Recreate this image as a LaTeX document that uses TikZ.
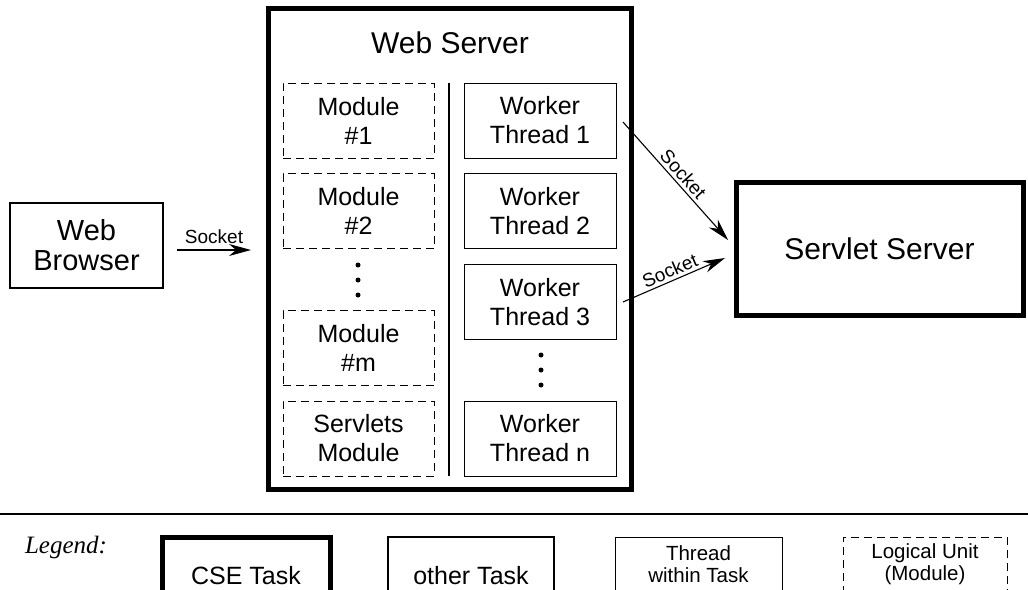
\documentclass[tikz,border=0pt]{standalone}
\usepackage{fontspec}
\setmainfont{Liberation Sans}
\newfontfamily\serifit{Liberation Serif}
\usetikzlibrary{arrows.meta}
\begin{document}
\begin{tikzpicture}[x=1pt,y=-1pt,
  box/.style={draw, rectangle, inner sep=0pt, align=center},
  cse/.style={box, line width=5pt},
  task/.style={box, line width=2.5pt},
  thr/.style={box, line width=1pt, minimum width=152pt, minimum height=75pt, font=\fontsize{25}{29}\selectfont},
  modu/.style={box, line width=1pt, dash pattern=on 8pt off 5pt, minimum width=151pt, minimum height=75pt, font=\fontsize{25}{29}\selectfont},
  dotn/.style={circle, fill, inner sep=0pt, minimum size=5pt},
  sock/.style={line width=1.1pt, -{Stealth[length=22pt,width=12pt,inset=7pt]}},
  socklbl/.style={font=\fontsize{19}{20}\selectfont, inner sep=3pt},
  lgtxt/.style={align=center, inner sep=0pt}
]
\useasboundingbox (0,0) rectangle (1028,589);
\clip (0,0) rectangle (1028,589);

% Web Browser
\node[task, minimum width=153pt, minimum height=85pt, font=\fontsize{29}{30}\selectfont] (wb) at (86.5,245.5) {Web\\Browser};

% Web Server
\node[cse, minimum width=363pt, minimum height=481pt] (ws) at (449.5,248.5) {};
\node[font=\fontsize{30}{30}\selectfont] (wstitle) at (450,43) {Web Server};

% Modules
\node[modu] (m1) at (358.5,120.5) {Module\\\#1};
\node[modu] (m2) at (358.5,211) {Module\\\#2};
\node[modu] (mm) at (358.5,348) {Module\\\#m};
\node[modu] (ms) at (358.5,438.5) {Servlets\\Module};
\node[dotn] (md1) at (358,265) {};
\node[dotn] (md2) at (358,280) {};
\node[dotn] (md3) at (358,295) {};

% divider
\coordinate (dvt) at (449,83);
\coordinate (dvb) at (449,476);
\draw[line width=1.3pt] (dvt) -- (dvb);

% Worker threads
\node[thr] (w1) at (540,120.5) {Worker\\Thread 1};
\node[thr] (w2) at (540,211) {Worker\\Thread 2};
\node[thr] (w3) at (540,302) {Worker\\Thread 3};
\node[thr] (wn) at (540,438.5) {Worker\\Thread n};
\node[dotn] (wd1) at (541,355) {};
\node[dotn] (wd2) at (541,370) {};
\node[dotn] (wd3) at (541,385) {};

% Servlet Server
\node[cse, minimum width=287pt, minimum height=133pt, font=\fontsize{30}{30}\selectfont] (ss) at (879.5,248.5) {Servlet Server};

% Sockets
\coordinate (bs) at (177,250);
\coordinate (be) at (251,250);
\draw[sock] (bs) -- (be);
\node[socklbl] (bl) at (214,237) {Socket};

\coordinate (s1) at (623,122);
\coordinate (t1) at (728,240);
\draw[sock] (s1) -- node[socklbl, above, sloped, pos=0.5] (l1) {Socket} (t1);
\coordinate (s2) at (623,302);
\coordinate (t2) at (725,258);
\draw[sock] (s2) -- node[socklbl, above, sloped, pos=0.5] (l2) {Socket} (t2);

% Legend
\coordinate (lgl) at (0,514);
\coordinate (lgr) at (1028,514);
\draw[line width=1.3pt] (lgl) -- (lgr);
\node[font=\serifit\itshape\fontsize{25}{26}\selectfont] (lg) at (66,547) {Legend:};

\node[cse, minimum width=168pt, minimum height=78pt] (lcse) at (246,576) {};
\node[lgtxt, font=\fontsize{25}{26}\selectfont] (lcset) at (246,576) {CSE Task};

\node[task, minimum width=166pt, minimum height=78pt] (loth) at (471,576) {};
\node[lgtxt, font=\fontsize{25}{26}\selectfont] (lotht) at (471,576) {other Task};

\node[box, line width=1pt, minimum width=167pt, minimum height=78pt] (lthr) at (698.5,576) {};
\node[lgtxt, font=\fontsize{20.5}{22}\selectfont] (lthrt) at (698.5,564) {Thread\\within Task};

\node[box, line width=1pt, dash pattern=on 8pt off 5pt, minimum width=164pt, minimum height=78pt] (llog) at (925,576) {};
\node[lgtxt, font=\fontsize{20.5}{22}\selectfont] (llogt) at (925,564) {Logical Unit\\(Module)};
\end{tikzpicture}
\end{document}
